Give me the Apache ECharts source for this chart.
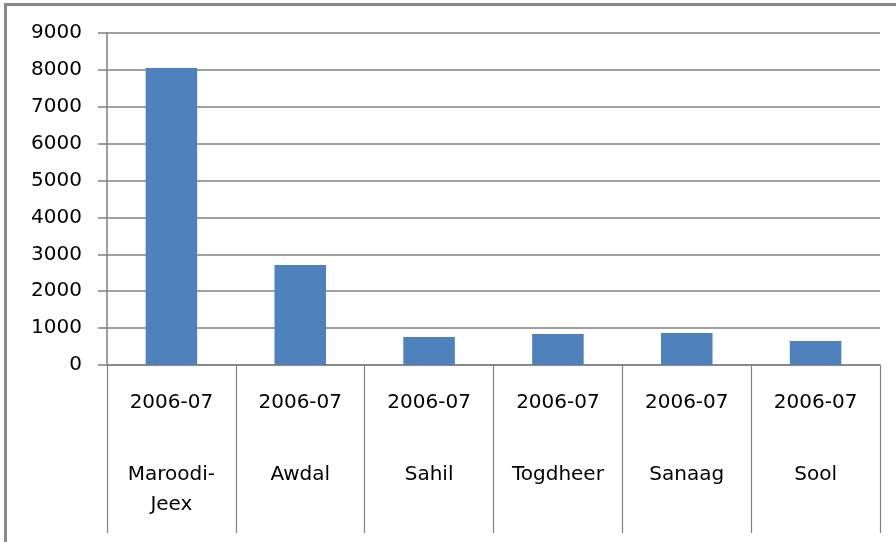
<!DOCTYPE html>
<html>
<head>
<meta charset="utf-8">
<script src="https://cdn.jsdelivr.net/npm/echarts@6/dist/echarts.min.js"></script>
<style>
  html, body { margin: 0; padding: 0; background: #fff; }
  #chart { width: 896px; height: 542px; }
</style>
</head>
<body>
<div id="chart"></div>
<script>
// Regions and the reporting year shown under each bar
const regions = ['Maroodi-\nJeex', 'Awdal', 'Sahil', 'Togdheer', 'Sanaag', 'Sool'];
const period = '2006-07';
const values = [8050, 2710, 760, 840, 865, 650];
const yTicks = { min: 0, max: 9000, interval: 1000 };

const gray = '#808080';
const font = 'DejaVu Sans';

const chart = echarts.init(document.getElementById('chart'), null, { renderer: 'canvas' });

chart.setOption({
  backgroundColor: '#ffffff',
  animation: false,
  grid: { left: 107, right: 16, top: 33, bottom: 177, containLabel: false },
  xAxis: {
    type: 'category',
    data: regions,
    boundaryGap: true,
    axisLine: { show: true, lineStyle: { color: gray, width: 1.5 } },
    axisTick: { show: true, interval: 0, length: 168, lineStyle: { color: gray, width: 1.2 } },
    axisLabel: {
      interval: 0,
      margin: 23,
      color: '#000',
      fontFamily: font,
      formatter: function (name) {
        const lines = name.split('\n').map(function (l) { return '{b|' + l + '}'; });
        return '{a|' + period + '}\n{s| }\n' + lines.join('\n');
      },
      rich: {
        a: { fontSize: 20, lineHeight: 30, fontFamily: font, color: '#000' },
        s: { fontSize: 10, lineHeight: 42 },
        b: { fontSize: 20, lineHeight: 30, fontFamily: font, color: '#000' }
      }
    },
    splitLine: { show: false }
  },
  yAxis: {
    type: 'value',
    min: yTicks.min,
    max: yTicks.max,
    interval: yTicks.interval,
    axisLine: { show: true, lineStyle: { color: gray, width: 1.5 } },
    axisTick: { show: true, length: 9, lineStyle: { color: gray, width: 1.5 } },
    axisLabel: {
      margin: 25,
      color: '#000',
      fontSize: 20,
      fontFamily: font,
      formatter: function (v) { return String(v); }
    },
    splitLine: { show: true, lineStyle: { color: gray, width: 1.5 } }
  },
  series: [{
    type: 'bar',
    data: values,
    barWidth: '40%',
    itemStyle: { color: '#4F81BD' }
  }],
  graphic: [
    { type: 'line', shape: { x1: 5.5, y1: 3, x2: 5.5, y2: 542 }, style: { stroke: '#888', lineWidth: 3 } },
    { type: 'line', shape: { x1: 4, y1: 4.5, x2: 896, y2: 4.5 }, style: { stroke: '#888', lineWidth: 3 } }
  ]
});
</script>
</body>
</html>
